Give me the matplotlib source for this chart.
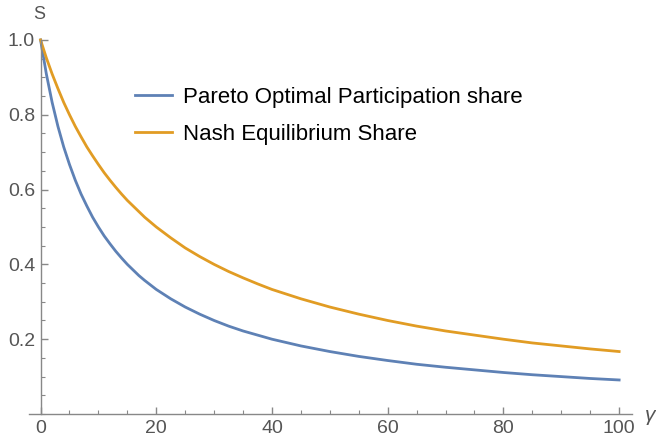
import numpy as np
import matplotlib.pyplot as plt
from matplotlib.ticker import MultipleLocator

# valores
gamma = [0, 1, 2, 3, 4, 5, 6, 7, 8, 9, 10, 11, 12, 13, 14, 15, 16, 17, 18,
         19, 20, 22.5, 25, 27.5, 30, 32.5, 35, 37.5, 40, 45, 50, 55, 60, 65,
         70, 75, 80, 85, 90, 95, 100]
pareto = [1.0, 0.909, 0.833, 0.769, 0.714, 0.667, 0.625, 0.588, 0.556, 0.526,
          0.5, 0.476, 0.455, 0.435, 0.417, 0.4, 0.385, 0.37, 0.357, 0.345,
          0.333, 0.308, 0.286, 0.267, 0.25, 0.235, 0.222, 0.211, 0.2, 0.182,
          0.167, 0.154, 0.143, 0.133, 0.125, 0.118, 0.111, 0.105, 0.1, 0.095,
          0.091]
nash = [1.0, 0.952, 0.909, 0.87, 0.833, 0.8, 0.769, 0.741, 0.714, 0.69,
        0.667, 0.645, 0.625, 0.606, 0.588, 0.571, 0.556, 0.541, 0.526, 0.513,
        0.5, 0.471, 0.444, 0.421, 0.4, 0.381, 0.364, 0.348, 0.333, 0.308,
        0.286, 0.267, 0.25, 0.235, 0.222, 0.211, 0.2, 0.19, 0.182, 0.174,
        0.167]

plt.rcParams['font.family'] = ['Liberation Sans', 'DejaVu Sans']

fig = plt.figure(figsize=(6.56, 4.37), dpi=100)
ax = fig.add_axes([0.0442, 0.0526, 0.919, 0.856])

ax.plot(gamma, pareto, color='#5E81B5', lw=2.0, clip_on=False,
        solid_joinstyle='round', label='Pareto Optimal Participation share')
ax.plot(gamma, nash, color='#E19C24', lw=2.0, clip_on=False,
        solid_joinstyle='round', label='Nash Equilibrium Share')

ax.set_xlim(-2, 102.2)
ax.set_ylim(0, 1.0)

for s in ['top', 'right']:
    ax.spines[s].set_visible(False)
ax.spines['left'].set_position(('data', 0))
ax.spines['bottom'].set_position(('data', 0))
for s in ['left', 'bottom']:
    ax.spines[s].set_color('#888888')
    ax.spines[s].set_linewidth(1)

ax.xaxis.set_major_locator(MultipleLocator(20))
ax.xaxis.set_minor_locator(MultipleLocator(5))
ax.set_yticks([0.2, 0.4, 0.6, 0.8, 1.0])
ax.set_yticklabels(['0.2', '0.4', '0.6', '0.8', '1.0'])
ax.yaxis.set_minor_locator(MultipleLocator(0.05))
ax.tick_params(which='both', direction='in', color='#888888',
               labelcolor='#555555', labelsize=14)
ax.tick_params(which='major', length=5, width=1)
ax.tick_params(which='minor', length=3, width=0.8)
ax.tick_params(axis='x', pad=4)
ax.tick_params(axis='y', pad=4)

ax.text(-0.2, 1.045, 'S', ha='center', va='bottom', fontsize=13,
        color='#555555')
ax.text(104.4, -0.005, 'γ', ha='left', va='center', fontsize=15,
        style='italic', color='#555555')

ax.legend(loc='upper left', bbox_to_anchor=(0.176, 0.874), frameon=False,
          fontsize=16, handlelength=1.67, handletextpad=0.5,
          labelspacing=0.72, borderpad=0, borderaxespad=0)

fig.savefig('out.png', dpi=100)
